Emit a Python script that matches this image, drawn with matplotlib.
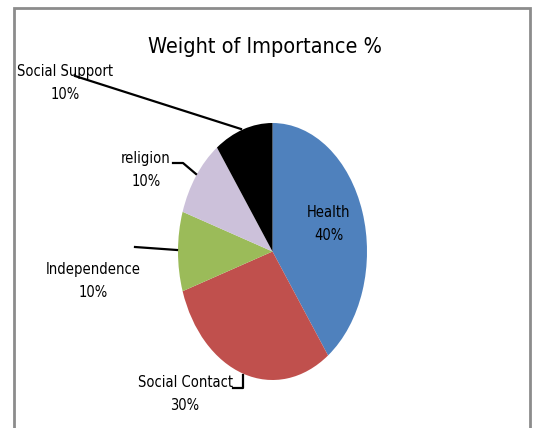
import matplotlib
matplotlib.use("Agg")
import matplotlib.pyplot as plt

plt.rcParams["font.family"] = ["DejaVu Sans"]
plt.rcParams["font.stretch"] = "condensed"

labels = ["Health", "Social Contact", "Independence", "religion", "Social Support"]
values = [40, 30, 10, 10, 10]
colors = ["#4F81BD", "#C0504D", "#9BBB59", "#CCC1DA", "#000000"]
title = "Weight of Importance %"

W, H = 536, 428
fig = plt.figure(figsize=(W / 100, H / 100), dpi=100)

# pie, stretched into an ellipse
left, top, right, bottom = 178, 123, 367, 380
pa = fig.add_axes([left / W, 1 - bottom / H, (right - left) / W, (bottom - top) / H])
pa.pie(values, colors=colors, startangle=90, counterclock=False,
       wedgeprops=dict(linewidth=0))
pa.set_aspect("auto")
pa.set_xlim(-1, 1)
pa.set_ylim(-1, 1)
pa.axis("off")

# overlay axes in pixel coordinates for border, labels and leader lines
ov = fig.add_axes([0, 0, 1, 1], zorder=3)
ov.set_xlim(0, W)
ov.set_ylim(H, 0)
ov.axis("off")

# chart frame (bottom edge runs off the picture)
ov.plot([14, 14, 530, 530], [H + 5, 8, 8, H + 5], color="#8c8c8c", lw=2, solid_joinstyle="miter")

ov.text(265, 47, title, ha="center", va="center", fontsize=15.5, fontweight="medium")

fs = 10.5
lab_pos = [(329, 224), (185, 394), (93, 281), (146, 170), (65, 83)]
for lab, v, (x, y) in zip(labels, values, lab_pos):
    ov.text(x, y, f"{lab}\n{v}%", ha="center", va="center", fontsize=fs, linespacing=1.7)

# leader lines
lk = dict(color="black", lw=1.6)
ov.plot([75, 241], [76, 129], **lk)
ov.plot([173, 183, 196], [163, 163, 174], **lk)
ov.plot([135, 177], [247, 250], **lk)
ov.plot([233, 243, 243], [388, 388, 375], **lk)

fig.savefig("out.png", dpi=100)
